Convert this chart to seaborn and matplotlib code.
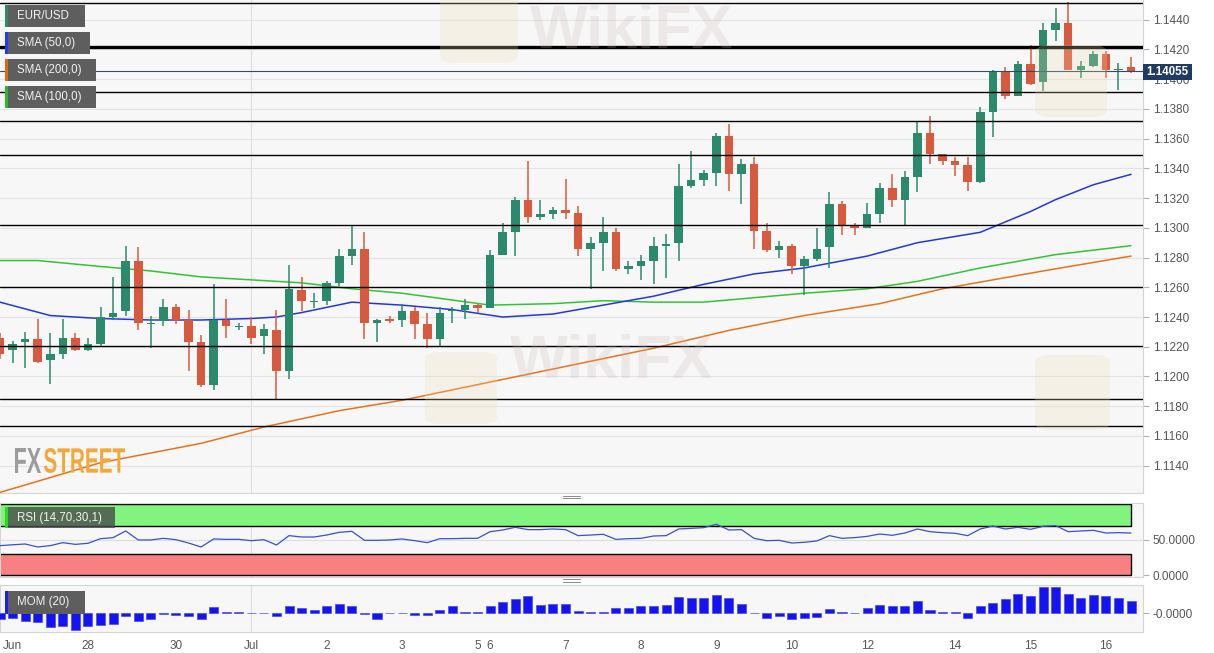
import numpy as np
import pandas as pd
import seaborn as sns
import matplotlib.pyplot as plt
from matplotlib.patches import Rectangle, PathPatch, FancyBboxPatch
from matplotlib.lines import Line2D
from matplotlib.textpath import TextPath
from matplotlib.font_manager import FontProperties
from matplotlib.transforms import Affine2D
from matplotlib.ticker import FormatStrFormatter

W, H = 1214, 653

# EUR/USD 4H candles, 26 Jun -> 16 Jul
opens = [1.1226, 1.1218, 1.1223, 1.1225, 1.1211, 1.1215, 1.1226, 1.1218, 1.1222, 1.1240,
         1.1244, 1.1278, 1.1235, 1.1237, 1.1247, 1.1238, 1.1223, 1.1194, 1.1238, 1.1233,
         1.1234, 1.1227, 1.1231, 1.1204, 1.1258, 1.1250, 1.1251, 1.1263, 1.1281, 1.1286,
         1.1236, 1.12385, 1.1238, 1.1244, 1.1235, 1.1225, 1.1244, 1.1245, 1.1248, 1.1246,
         1.1282, 1.1297, 1.1319, 1.1307, 1.1309, 1.1312, 1.1310, 1.1286, 1.1290, 1.1297,
         1.1272, 1.1274, 1.1278, 1.1288, 1.1290, 1.1328, 1.1332, 1.1337, 1.1362, 1.1336,
         1.1343, 1.1298, 1.1285, 1.1288, 1.1274, 1.1279, 1.1287, 1.1316, 1.1301, 1.1300,
         1.1309, 1.1327, 1.1319, 1.1334, 1.1364, 1.1350, 1.1345, 1.1342, 1.1331, 1.1378,
         1.1405, 1.1389, 1.1410, 1.1398, 1.1433, 1.1438, 1.1406, 1.1409, 1.1417, 1.1406,
         1.1408]
highs = [1.1229, 1.1224, 1.1230, 1.1239, 1.1229, 1.1239, 1.1229, 1.1226, 1.1247, 1.1267,
         1.1288, 1.1287, 1.1241, 1.1252, 1.1249, 1.1245, 1.1228, 1.1262, 1.1252, 1.1236,
         1.1240, 1.1235, 1.1245, 1.1275, 1.1267, 1.1256, 1.1264, 1.1286, 1.1302, 1.1297,
         1.1239, 1.1241, 1.1249, 1.1247, 1.1243, 1.1247, 1.1247, 1.1252, 1.1249, 1.1285,
         1.1303, 1.1321, 1.1345, 1.1319, 1.1314, 1.1333, 1.1315, 1.1294, 1.1307, 1.1300,
         1.1278, 1.1282, 1.1294, 1.1296, 1.1343, 1.1352, 1.1339, 1.1364, 1.1370, 1.1346,
         1.1348, 1.1303, 1.1291, 1.1289, 1.1281, 1.1300, 1.1324, 1.1318, 1.1303, 1.1317,
         1.1330, 1.1336, 1.1338, 1.1371, 1.1375, 1.1350, 1.1348, 1.1348, 1.1381, 1.1406,
         1.1408, 1.1412, 1.1423, 1.1438, 1.1448, 1.1452, 1.1412, 1.1419, 1.1419, 1.1411,
         1.1415]
lows = [1.1212, 1.1209, 1.1206, 1.1209, 1.1195, 1.1212, 1.1217, 1.1217, 1.1220, 1.1238,
        1.1241, 1.1231, 1.1219, 1.1234, 1.1235, 1.1204, 1.1193, 1.1191, 1.1226, 1.1231,
        1.1222, 1.1215, 1.1185, 1.1198, 1.1244, 1.1246, 1.1248, 1.1261, 1.1275, 1.1225,
        1.1223, 1.1236, 1.1233, 1.1225, 1.1219, 1.1220, 1.1236, 1.1239, 1.1243, 1.1246,
        1.1282, 1.1281, 1.1303, 1.1305, 1.1306, 1.1306, 1.1281, 1.1259, 1.1271, 1.1271,
        1.1269, 1.1265, 1.1262, 1.1266, 1.1278, 1.1327, 1.1328, 1.1328, 1.1325, 1.1316,
        1.1286, 1.1284, 1.1280, 1.1269, 1.1255, 1.1278, 1.1273, 1.1295, 1.1295, 1.1300,
        1.1303, 1.1314, 1.1301, 1.1324, 1.1343, 1.1342, 1.1335, 1.1325, 1.1330, 1.1361,
        1.1387, 1.1389, 1.1396, 1.1392, 1.1426, 1.1406, 1.1401, 1.1408, 1.1401, 1.1393,
        1.1404]
closes = [1.1215, 1.1222, 1.1225, 1.1210, 1.1215, 1.1226, 1.1218, 1.1222, 1.1240, 1.1243,
          1.1278, 1.1236, 1.1236, 1.1247, 1.1238, 1.1223, 1.1194, 1.1238, 1.1234, 1.1234,
          1.1226, 1.1232, 1.1204, 1.1259, 1.1251, 1.1251, 1.1263, 1.1281, 1.1286, 1.1236,
          1.1238, 1.12375, 1.1244, 1.1235, 1.1225, 1.1243, 1.1245, 1.1248, 1.1246, 1.1282,
          1.1297, 1.1319, 1.1307, 1.1309, 1.1312, 1.1310, 1.1286, 1.1290, 1.1297, 1.1272,
          1.1274, 1.1278, 1.1288, 1.1289, 1.1328, 1.1332, 1.1337, 1.1362, 1.1336, 1.1343,
          1.1298, 1.1285, 1.1288, 1.1274, 1.1279, 1.1286, 1.1316, 1.1301, 1.1300, 1.1309,
          1.1327, 1.1319, 1.1334, 1.1364, 1.1350, 1.1345, 1.1342, 1.1331, 1.1378, 1.1405,
          1.1389, 1.1410, 1.1397, 1.1433, 1.1438, 1.1406, 1.1409, 1.1417, 1.1406, 1.1407,
          1.14055]

# moving averages, read at a few candle positions
sma50_x = [0, 4, 8, 12, 16, 20, 22, 24, 28, 32, 36, 40, 44, 48, 52, 56, 60, 64, 69, 73, 78, 82, 84, 87, 90]
sma50_y = [1.1250, 1.1241, 1.1239, 1.1238, 1.1238, 1.1239, 1.1240, 1.1243, 1.1250, 1.1248,
           1.1245, 1.1240, 1.1242, 1.1248, 1.1254, 1.1262, 1.1269, 1.1273, 1.1281, 1.1290,
           1.1297, 1.1311, 1.1319, 1.1329, 1.1336]
sma100_x = [0, 3, 8, 12, 16, 20, 24, 28, 32, 39, 44, 48, 52, 56, 60, 64, 69, 73, 78, 84, 90]
sma100_y = [1.1278, 1.1278, 1.1274, 1.1271, 1.1267, 1.1265, 1.1263, 1.1259, 1.1256, 1.1248,
            1.1249, 1.1251, 1.1250, 1.1250, 1.1253, 1.1256, 1.1259, 1.1264, 1.1273, 1.1282, 1.1288]
sma200_x = [0, 8, 16, 21, 27, 32, 52, 58, 64, 70, 75, 83, 90]
sma200_y = [1.1122, 1.1142, 1.1155, 1.1166, 1.1177, 1.1184, 1.1219, 1.1231, 1.1241, 1.1249,
            1.1259, 1.1271, 1.1281]

rsi = [41.8, 43.0, 44.1, 39.9, 41.8, 46.0, 43.6, 45.1, 51.6, 53.1,
       62.5, 49.8, 49.8, 52.1, 50.2, 45.5, 39.9, 51.2, 50.7, 50.7,
       48.8, 50.2, 42.7, 55.9, 54.0, 54.0, 56.8, 60.6, 62.0, 49.3,
       49.3, 49.8, 51.2, 48.8, 46.0, 51.6, 51.6, 52.1, 52.1, 61.5,
       63.9, 67.7, 64.4, 64.4, 65.3, 64.4, 55.9, 56.8, 57.8, 50.7,
       51.6, 52.1, 55.4, 55.9, 65.3, 66.2, 67.2, 71.9, 63.9, 64.4,
       52.1, 48.8, 49.3, 45.5, 46.5, 48.4, 55.9, 52.1, 53.1, 54.9,
       58.2, 56.4, 59.6, 65.3, 61.5, 60.1, 59.2, 55.9, 65.3, 69.5,
       65.3, 67.7, 64.8, 69.1, 70.0, 61.5, 62.5, 63.4, 59.6, 60.1,
       59.6]

mom = [-0.0030, -0.0026, -0.0044, -0.0050, -0.0076, -0.0070, -0.0090, -0.0070, -0.0062, -0.0060,
       -0.0016, -0.0040, -0.0030, -0.0004, -0.0010, -0.0014, -0.0030, 0.0034, 0.0006, 0.0004,
       0.0002, -0.0002, -0.0016, 0.0040, 0.0030, 0.0018, 0.0036, 0.0048, 0.0040, -0.0004,
       -0.0030, -0.0001, -0.0002, -0.0010, -0.0012, 0.0016, 0.0040, 0.0006, 0.0008, 0.0040,
       0.0058, 0.0074, 0.0090, 0.0044, 0.0050, 0.0048, 0.0014, 0.0006, 0.0006, 0.0030,
       0.0030, 0.0036, 0.0036, 0.0046, 0.0088, 0.0080, 0.0080, 0.0098, 0.0080, 0.0050,
       0.0000, -0.0028, -0.0016, -0.0030, -0.0026, -0.0020, 0.0024, 0.0006, 0.0002, 0.0030,
       0.0044, 0.0036, 0.0040, 0.0064, 0.0016, 0.0008, 0.0004, -0.0026, 0.0036, 0.0054,
       0.0076, 0.0106, 0.0094, 0.0140, 0.0140, 0.0104, 0.0080, 0.0100, 0.0090, 0.0084,
       0.0066]

day_pos = [1, 7, 14, 20, 26, 32, 38, 39, 45, 51, 57, 63, 69, 76, 82, 88]
day_labels = ['Jun', '28', '30', 'Jul', '2', '3', '5', '6', '7', '8', '9', '10', '12', '14', '15', '16']

price_ticks = [1.1140, 1.1160, 1.1180, 1.1200, 1.1220, 1.1240, 1.1260, 1.1280,
               1.1300, 1.1320, 1.1340, 1.1360, 1.1380, 1.1400, 1.1420, 1.1440]
levels = [1.14512, 1.13912, 1.13719, 1.13490, 1.13019, 1.12602, 1.12205, 1.11848, 1.11667]
thick_level = 1.14215
last_price = 1.14055

GREEN = '#2b8a6c'
RED = '#d85a3e'

sns.set_style('white')
plt.rcParams['font.family'] = ['Liberation Sans', 'DejaVu Sans']

fig = plt.figure(figsize=(W / 100, H / 100), dpi=100, facecolor='white')


def pix_axes(x0, y0, x1, y1):
    # box given in pixels from the top-left corner
    return fig.add_axes([x0 / W, 1 - y1 / H, (x1 - x0) / W, (y1 - y0) / H])


def pix_rect(x0, y0, x1, y1, **kw):
    r = Rectangle((x0 / W, 1 - y1 / H), (x1 - x0) / W, (y1 - y0) / H,
                  transform=fig.transFigure, **kw)
    fig.add_artist(r)
    return r


ax = pix_axes(0, 0, 1143, 493)
ax_rsi = pix_axes(0, 503, 1143, 577)
ax_mom = pix_axes(0, 585, 1143, 632)

for a in (ax, ax_rsi, ax_mom):
    a.set_facecolor('#f7f7f7')
    a.set_xlim(0, 90.95)
    for s in a.spines.values():
        s.set_color('#d4d4d4')
        s.set_linewidth(0.8)
    a.axvline(20, color='#dedede', lw=0.8, zorder=0.5)

# ---- price panel
df = pd.DataFrame({'i': np.arange(len(closes)), 'o': opens, 'h': highs, 'l': lows, 'c': closes})
cols = np.where(df.c >= df.o, GREEN, RED)
ax.vlines(df.i, df.l, df.h, colors=cols, lw=1.1, zorder=3)
body = (df.c - df.o).abs().clip(lower=0.00004)
ax.bar(df.i, body, bottom=df[['o', 'c']].min(axis=1), width=0.68, color=cols, lw=0, zorder=4)

sns.lineplot(x=sma200_x, y=sma200_y, ax=ax, color='#e8731a', lw=1.1, zorder=2)
sns.lineplot(x=sma100_x, y=sma100_y, ax=ax, color='#35c235', lw=1.1, zorder=2)
sns.lineplot(x=sma50_x, y=sma50_y, ax=ax, color='#2438d8', lw=1.1, zorder=2)

for lv in levels:
    ax.axhline(lv, color='black', lw=1.0, zorder=5)
ax.axhline(thick_level, color='black', lw=2.4, zorder=5)
ax.axhline(last_price, color='#33496b', lw=0.8, zorder=5)

ax.set_ylim(1.11216, 1.14533)
ax.yaxis.tick_right()
ax.set_yticks(price_ticks)
ax.yaxis.set_major_formatter(FormatStrFormatter('%.4f'))
ax.tick_params(axis='y', length=4, color='#b0b0b0', labelcolor='#555555', labelsize=8.5, pad=3)
ax.set_xticks([])
ax.grid(True, axis='y', color='#e4e4e4', lw=0.8, zorder=0)
ax.set_axisbelow(True)
ax.spines['left'].set_visible(False)
ax.spines['top'].set_visible(False)
ax.set_xlabel('')
ax.set_ylabel('')

# ---- RSI panel
ax_rsi.add_patch(Rectangle((-1, 70), 91, 30, facecolor='#80f47e', edgecolor='black', lw=1, zorder=1))
ax_rsi.add_patch(Rectangle((-1, 0), 91, 30, facecolor='#f98080', edgecolor='black', lw=1, zorder=1))
ax_rsi.axhline(50, color='#dddddd', lw=0.8, zorder=0.6)
sns.lineplot(x=df.i, y=rsi, ax=ax_rsi, color='#3a50cc', lw=0.9, zorder=3)
ax_rsi.set_ylim(-2.5, 102)
ax_rsi.yaxis.tick_right()
ax_rsi.set_yticks([50, 0])
ax_rsi.yaxis.set_major_formatter(FormatStrFormatter('%.4f'))
ax_rsi.tick_params(axis='y', length=4, color='#b0b0b0', labelcolor='#555555', labelsize=8.5, pad=3)
ax_rsi.set_xticks([])
ax_rsi.set_xlabel('')
ax_rsi.set_ylabel('')

# ---- MOM panel
ax_mom.bar(df.i, mom, width=0.72, color='#1414f0', edgecolor='#4a4af5', lw=0.5, zorder=3)
ax_mom.set_ylim(-0.0102, 0.0152)
ax_mom.yaxis.tick_right()
ax_mom.set_yticks([-1e-7])
ax_mom.yaxis.set_major_formatter(FormatStrFormatter('%.4f'))
ax_mom.tick_params(axis='y', length=4, color='#b0b0b0', labelcolor='#555555', labelsize=8.5, pad=3)
ax_mom.set_xticks(day_pos, day_labels)
ax_mom.tick_params(axis='x', length=4, color='#b0b0b0', labelcolor='#555555', labelsize=8.5, pad=2)

# ---- label tags
def tag(x0, y0, x1, y1, text, strip, face='#5e5e5e', alpha=1.0):
    pix_rect(x0, y0, x1, y1, facecolor=face, alpha=alpha, edgecolor='none', zorder=6)
    pix_rect(x0, y0, x0 + 3, y1, facecolor=strip, edgecolor='none', zorder=7)
    fig.text((x0 + 12) / W, 1 - (y0 + y1) / 2 / H, text, color='#f2f2f2',
             fontsize=8.3, va='center', ha='left', zorder=8)


tag(5, 5, 85, 27, 'EUR/USD', GREEN)
tag(5, 32, 90, 54, 'SMA (50,0)', '#1a3cff')
tag(5, 59, 96, 81, 'SMA (200,0)', '#e06a10')
tag(5, 86, 96, 108, 'SMA (100,0)', '#22c022')
tag(5, 507, 115, 528, 'RSI (14,70,30,1)', '#22dd22', face='#4a4a4a', alpha=0.8)
tag(5, 591, 85, 614, 'MOM (20)', '#1a1aff')

# last price box
pix_rect(1143, 64, 1192, 80, facecolor='#1f3b63', edgecolor='none', zorder=6)
fig.text(1167.5 / W, 1 - 72 / H, '1.14055', color='white', fontsize=8.3,
         fontweight='bold', ha='center', va='center', zorder=7)

# panel resize handles
for yy in (495.5, 498.0, 579.0, 581.5):
    fig.add_artist(Line2D([563 / W, 580 / W], [1 - yy / H] * 2, color='#8c8c8c', lw=0.7,
                          transform=fig.transFigure))

# ---- FXSTREET logo
def logo_word(text, x0, x1, ytop, ybot, color):
    tp = TextPath((0, 0), text, size=10, prop=FontProperties(family='Liberation Sans', weight='bold'))
    ext = tp.get_extents()
    sx = (x1 - x0) / ext.width
    sy = (ybot - ytop) / ext.height
    tr = Affine2D().translate(-ext.x0, -ext.y0).scale(sx, sy).translate(x0, H - ybot)
    fig.add_artist(PathPatch(tp, transform=tr, facecolor=color, edgecolor='none', zorder=6))


logo_word('FX', 15, 41, 448, 473, '#9c9c9c')
logo_word('STREET', 44, 125, 448, 473, '#f2a83a')

# ---- faint watermarks
for (x0, y0, s) in [(440, -15, 78), (1035, 45, 72), (425, 352, 72), (1035, 355, 75)]:
    fig.add_artist(FancyBboxPatch((x0 / W, 1 - (y0 + s) / H), s / W, s / H,
                                  boxstyle='round,pad=0,rounding_size=0.012',
                                  transform=fig.transFigure, facecolor='#f1ddb0',
                                  edgecolor='none', alpha=0.25, zorder=6))
for (x, y) in [(530, 32), (510, 362)]:
    fig.text(x / W, 1 - y / H, 'WikiFX', fontsize=44, fontweight='bold', color='#c9b6b6',
             alpha=0.22, ha='left', va='center', zorder=6)

fig.savefig('out.png', dpi=100, facecolor='white')
